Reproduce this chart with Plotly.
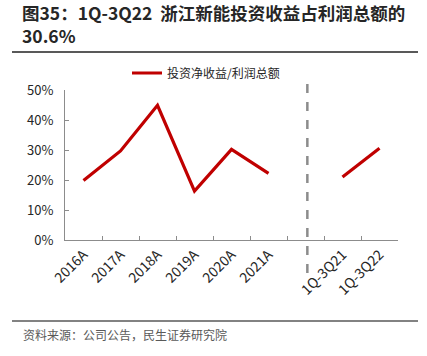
import plotly.graph_objects as go

categories = ["2016A", "2017A", "2018A", "2019A", "2020A", "2021A", " ", "1Q-3Q21", "1Q-3Q22"]
values = [0.198, 0.297, 0.449, 0.163, 0.302, 0.222, None, 0.210, 0.306]
series_name = "投资净收益/利润总额"
y_ticks = [0, 0.1, 0.2, 0.3, 0.4, 0.5]
y_tick_labels = ["0%", "10%", "20%", "30%", "40%", "50%"]

FONT = "Noto Sans CJK SC"
W, H = 427, 356
L, R, T, B = 65, 398, 90, 240

def px(x):
    return (x - L) / (R - L)

def py(y):
    return (B - y) / (B - T)

fig = go.Figure()
fig.add_trace(go.Scatter(
    x=categories, y=values, mode="lines", name=series_name,
    line=dict(color="#C00000", width=3.2), connectgaps=False,
))

fig.update_layout(
    width=W, height=H,
    margin=dict(l=L, r=W - R, t=T, b=H - B, autoexpand=False),
    paper_bgcolor="white", plot_bgcolor="white",
    font=dict(family=FONT, color="#262626"),
    showlegend=True,
    legend=dict(orientation="h", x=px(127), y=py(73), xanchor="left", yanchor="middle",
                font=dict(size=12, family=FONT, color="#262626"), bgcolor="rgba(0,0,0,0)"),
    xaxis=dict(type="category", categoryorder="array", categoryarray=categories,
               tickson="boundaries", ticks="inside", ticklen=4, tickcolor="#8c8c8c",
               showline=True, linecolor="#8c8c8c", linewidth=1, showgrid=False,
               tickangle=-45, tickfont=dict(size=14, family=FONT, color="#262626"),
               range=[-0.5, 8.5], zeroline=False, automargin=False),
    yaxis=dict(range=[0, 0.5], tickvals=y_ticks, ticktext=y_tick_labels,
               ticks="inside", ticklen=4, tickcolor="#8c8c8c",
               showline=True, linecolor="#8c8c8c", linewidth=1, showgrid=False,
               tickfont=dict(size=13, family=FONT, color="#262626"), zeroline=False,
               ticklabelstandoff=8, automargin=False),
)

# dashed separator
fig.add_shape(type="line", xref="x", yref="paper", x0=6.05, x1=6.05, y0=py(273), y1=py(77),
              line=dict(color="#8c8c8c", width=2.5, dash="dash"))

# title (two lines)
fig.add_annotation(xref="paper", yref="paper", x=px(21), y=py(24.5), xanchor="left", yanchor="middle",
                   align="left",
                   text="<b>图35：1Q-3Q22  浙江新能投资收益占利润总额的</b><br><b>30.6%</b>",
                   showarrow=False, borderpad=0,
                   font=dict(size=17.5, family=FONT, color="#262626"))
fig.add_shape(type="line", xref="paper", yref="paper", x0=px(12), x1=px(418), y0=py(52), y1=py(52),
              line=dict(color="#595959", width=2))

# source
fig.add_shape(type="line", xref="paper", yref="paper", x0=px(12), x1=px(418), y0=py(321), y1=py(321),
              line=dict(color="#595959", width=1.5))
fig.add_annotation(xref="paper", yref="paper", x=px(21), y=py(334), xanchor="left", yanchor="middle",
                   text="资料来源：公司公告，民生证券研究院", showarrow=False,
                   font=dict(size=12, family=FONT, color="#595959"))

fig.write_html("out.html", config={"displayModeBar": False},
               post_script="document.body.style.margin='0';document.body.style.padding='0';")
